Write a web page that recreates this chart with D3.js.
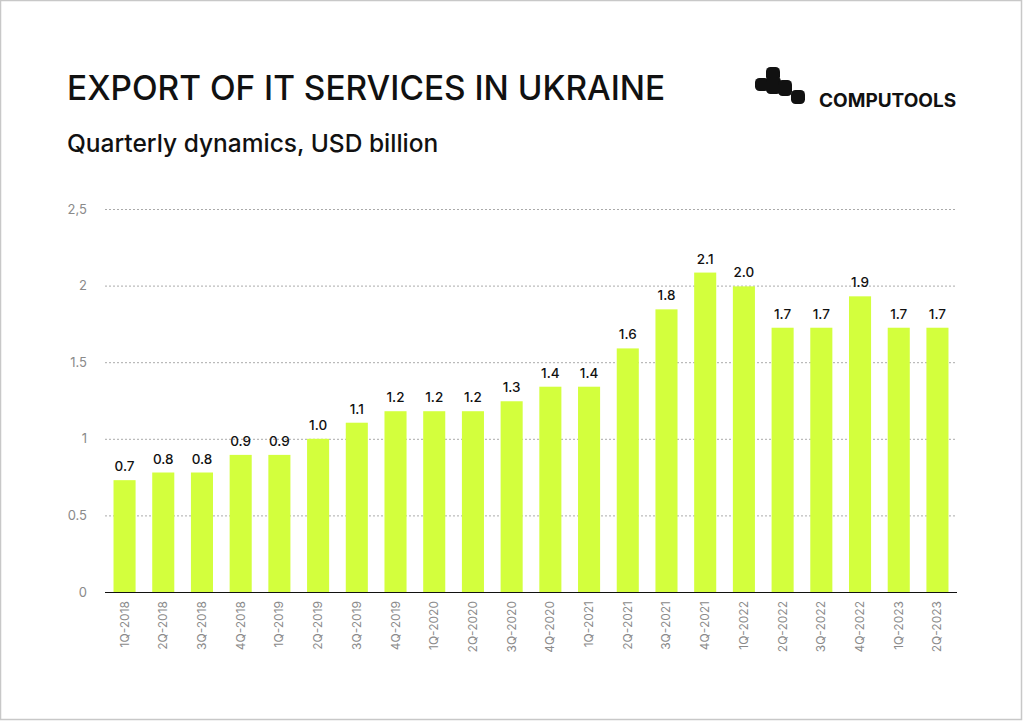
<!DOCTYPE html>
<html><head><meta charset="utf-8">
<script src="https://cdn.jsdelivr.net/npm/d3@7"></script>
<style>
html,body{margin:0;padding:0;background:#fff;}
svg{display:block;}
text{font-family:Inter,"Noto Sans",sans-serif;}
</style></head>
<body>
<svg id="chart" width="1024" height="723"></svg>
<script>
(function(){
const categories = ["1Q-2018","2Q-2018","3Q-2018","4Q-2018","1Q-2019","2Q-2019","3Q-2019","4Q-2019","1Q-2020","2Q-2020","3Q-2020","4Q-2020","1Q-2021","2Q-2021","3Q-2021","4Q-2021","1Q-2022","2Q-2022","3Q-2022","4Q-2022","1Q-2023","2Q-2023"];
const values = [0.73,0.78,0.78,0.895,0.895,1.0,1.105,1.18,1.18,1.18,1.245,1.34,1.34,1.59,1.845,2.085,1.995,1.725,1.725,1.93,1.725,1.725];
const valueLabels = ["0.7","0.8","0.8","0.9","0.9","1.0","1.1","1.2","1.2","1.2","1.3","1.4","1.4","1.6","1.8","2.1","2.0","1.7","1.7","1.9","1.7","1.7"];
const yTicks = [0,0.5,1,1.5,2,2.5];
const yTickLabels = ["0","0.5","1","1.5","2","2,5"];
const title = "EXPORT OF IT SERVICES IN UKRAINE";
const subtitle = "Quarterly dynamics, USD billion";
const brand = "COMPUTOOLS";

const svg = d3.select("#chart");
svg.append("rect").attr("x",0.5).attr("y",0.5).attr("width",1021).attr("height",719)
  .attr("fill","#fff").attr("stroke","#c8c8c8").attr("stroke-width",1.5);

const pl = 105, pr = 957, pt = 209, pb = 592;
const x = d3.scaleBand().domain(categories).range([pl,pr]).paddingInner(0.43).paddingOuter(0.22);
const y = d3.scaleLinear().domain([0,2.5]).range([pb,pt]);

svg.append("g").selectAll("line").data(yTicks.filter(d=>d>0)).join("line")
  .attr("x1",pl).attr("x2",pr).attr("y1",d=>y(d)+0.5).attr("y2",d=>y(d)+0.5)
  .attr("stroke","#aaaaaa").attr("stroke-width",1).attr("stroke-dasharray","2,2");

svg.append("g").selectAll("text").data(yTicks).join("text")
  .attr("x",87).attr("y",d=>y(d)).attr("dy","0.35em").attr("text-anchor","end")
  .attr("font-size",13).attr("fill","#8a8a8a").text((d,i)=>yTickLabels[i]);

svg.append("g").selectAll("rect").data(values).join("rect")
  .attr("x",(d,i)=>x(categories[i])).attr("width",x.bandwidth())
  .attr("y",d=>y(d)).attr("height",d=>pb-y(d)).attr("fill","#d3ff3d");

svg.append("g").selectAll("text").data(values).join("text")
  .attr("x",(d,i)=>x(categories[i])+x.bandwidth()/2).attr("y",d=>y(d)-9)
  .attr("text-anchor","middle").attr("font-size",13.5).attr("font-weight",500).attr("fill","#111")
  .text((d,i)=>valueLabels[i]);

svg.append("line").attr("x1",pl).attr("x2",pr).attr("y1",pb+0.5).attr("y2",pb+0.5)
  .attr("stroke","#111").attr("stroke-width",1.2);

svg.append("g").selectAll("text").data(categories).join("text")
  .attr("transform",d=>`translate(${x(d)+x.bandwidth()/2+4},601) rotate(-90)`)
  .attr("text-anchor","end").attr("font-size",12).attr("fill","#8a8a8a").text(d=>d);

svg.append("text").attr("x",67).attr("y",100).attr("font-size",33.4).attr("font-weight",500).attr("fill","#111").text(title);
svg.append("text").attr("x",67).attr("y",152).attr("font-size",24.5).attr("font-weight",500).attr("fill","#111").text(subtitle);

// logo blocks [x, y, w, h] relative to logo origin
const logoBlocks = [[11,0,14,14],[0,11,14,13],[11,10,15,17],[23,13,14,16],[36,23,14,14]];
const lg = svg.append("g").attr("transform","translate(755,67)");
lg.selectAll("rect").data(logoBlocks).join("rect")
  .attr("x",d=>d[0]).attr("y",d=>d[1]).attr("width",d=>d[2]).attr("height",d=>d[3]).attr("rx",4.5).attr("fill","#111");
svg.append("text").attr("x",819).attr("y",107).attr("font-size",19).attr("font-weight",700).attr("fill","#111").text(brand);
})();
</script>
</body></html>
